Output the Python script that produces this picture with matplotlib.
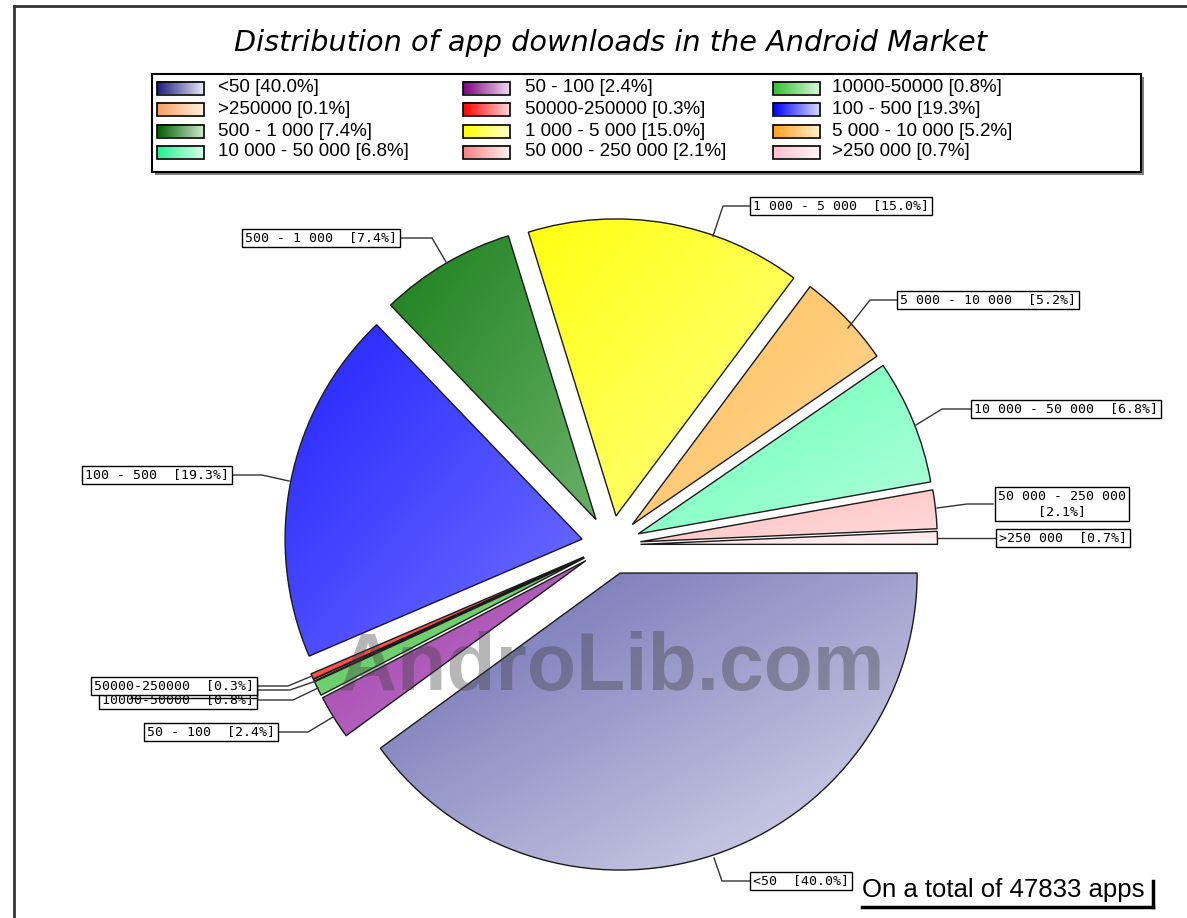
import numpy as np
import matplotlib
matplotlib.use("Agg")
import matplotlib.pyplot as plt
from matplotlib.colors import LinearSegmentedColormap
from matplotlib.patches import Rectangle

W, H = 1187, 918

# data, in the order the chart draws it (clockwise from 3 o'clock)
CATEGORIES = ["<50", "50 - 100", "10000-50000", ">250000", "50000-250000", "100 - 500",
              "500 - 1 000", "1 000 - 5 000", "5 000 - 10 000", "10 000 - 50 000",
              "50 000 - 250 000", ">250 000"]
SHARES = [40.0, 2.4, 0.8, 0.1, 0.3, 19.3, 7.4, 15.0, 5.2, 6.8, 2.1, 0.7]
TOTAL_APPS = 47833
TITLE = "Distribution of app downloads in the Android Market"

# styles
PIE_DARK = ["#6868b0", "#9c3ca8", "#48c048", "#f8a878", "#ff1818", "#2424ff",
            "#1c801c", "#ffff10", "#ffbe5a", "#68ffb4", "#ffbcbc", "#ffdce4"]
PIE_LIGHT = ["#dcdcee", "#c47ccc", "#98e098", "#ffd8c0", "#ff8888", "#7070ff",
             "#68b068", "#ffff88", "#ffd898", "#b0ffdc", "#ffdcdc", "#fff0f2"]
SWATCH_DARK = ["#1c1c80", "#800080", "#30c030", "#f8a060", "#ff0000", "#0000ff",
               "#006000", "#ffff00", "#ffa020", "#20f090", "#ff8080", "#ffc0d0"]
SWATCH_LIGHT = ["#e8e8f4", "#f0d8f0", "#d8f8d8", "#fff0e0", "#ffd8d8", "#d8d8ff",
                "#d0e8d0", "#ffffd0", "#fff0d0", "#d8ffe8", "#fff0f0", "#fff4f8"]

# pie placement in pixels (explode is in the same units)
CX, CY, R = 611, 545, 297
EXPLODE = 29.5

# label layout: (side, x of box edge, y centre, leader polyline)
LABEL_LAYOUT = [
    ("left", 750, 881, [(714, 858), (722, 881), (750, 881)]),
    ("right", 278, 732, [(333, 717), (308, 732), (278, 732)]),
    ("right", 257, 700, [(318, 688), (293, 700), (257, 700)]),
    ("right", 257, 689, [(316, 681), (290, 690), (257, 690)]),
    ("right", 257, 686, [(312, 676), (288, 686), (257, 686)]),
    ("right", 232, 475, [(289, 481), (262, 475), (232, 475)]),
    ("right", 400, 238, [(446, 262), (432, 238), (400, 238)]),
    ("left", 750, 206, [(713, 236), (723, 206), (750, 206)]),
    ("left", 897, 300, [(848, 328), (870, 300), (897, 300)]),
    ("left", 971, 409, [(916, 425), (942, 409), (971, 409)]),
    ("center", 1062, 504, [(937, 508), (967, 504), (993, 504)]),
    ("left", 996, 538, [(938, 538), (996, 538)]),
]

LEG_COLS_SWATCH = [157, 463, 773]
LEG_COLS_TEXT = [218, 525, 832]
LEG_ROWS = [88, 109, 131, 152]

fig = plt.figure(figsize=(W / 100, H / 100), dpi=100)
ax = fig.add_axes([0, 0, 1, 1])

wedges, _ = ax.pie(SHARES, radius=R, center=(CX, CY), explode=[EXPLODE] * len(SHARES),
                   startangle=0, counterclock=True,
                   wedgeprops=dict(facecolor="none", edgecolor="#1a1a1a", linewidth=1.0, zorder=3))

gx, gy = np.meshgrid(np.linspace(0, 1, 128), np.linspace(0, 1, 128))
for w, c0, c1 in zip(wedges, PIE_DARK, PIE_LIGHT):
    th = np.radians(np.linspace(w.theta1, w.theta2, 60))
    xs = np.r_[w.center[0], w.center[0] + w.r * np.cos(th)]
    ys = np.r_[w.center[1], w.center[1] + w.r * np.sin(th)]
    cmap = LinearSegmentedColormap.from_list("g", [c0, c1])
    im = ax.imshow((gx + gy) / 2, cmap=cmap, extent=(xs.min(), xs.max(), ys.max(), ys.min()),
                   origin="upper", zorder=2, interpolation="bilinear", aspect="auto")
    im.set_clip_path(w)

# pie labels
label_font = dict(family="DejaVu Sans Mono", fontsize=9.5, zorder=6)
for i, (cat, share) in enumerate(zip(CATEGORIES, SHARES)):
    side, x, y, pts = LABEL_LAYOUT[i]
    px, py = zip(*pts)
    ax.plot(px, py, color="#333333", lw=1.0, zorder=4)
    fc = "none" if i == 3 else "white"
    box = dict(boxstyle="square,pad=0.22", fc=fc, ec="black", lw=1.0)
    if side == "center":
        txt = f"{cat}\n[{share:.1f}%]"
        ax.text(x, y, txt, ha="center", va="center", multialignment="center",
                linespacing=1.15, bbox=box, **label_font)
    elif side == "left":
        ax.text(x + 3, y, f"{cat}  [{share:.1f}%]", ha="left", va="center", bbox=box, **label_font)
    else:
        ax.text(x - 3, y, f"{cat}  [{share:.1f}%]", ha="right", va="center", bbox=box, **label_font)

# legend
ax.add_patch(Rectangle((155, 77), 989, 98, fc="#808080", ec="none", zorder=1))
ax.add_patch(Rectangle((152, 74), 989, 98, fc="white", ec="black", lw=1.5, zorder=1.5))
hgrad = np.linspace(0, 1, 64)[None, :]
for i, (cat, share) in enumerate(zip(CATEGORIES, SHARES)):
    r, c = divmod(i, 3)
    sx, sy = LEG_COLS_SWATCH[c], LEG_ROWS[r]
    cmap = LinearSegmentedColormap.from_list("s", [SWATCH_DARK[i], SWATCH_LIGHT[i]])
    ax.imshow(hgrad, cmap=cmap, extent=(sx, sx + 47, sy + 6.5, sy - 6.5), origin="upper",
              aspect="auto", zorder=2)
    ax.add_patch(Rectangle((sx, sy - 6.5), 47, 13, fc="none", ec="black", lw=1.2, zorder=3))
    ax.text(LEG_COLS_TEXT[c], sy, f"{cat} [{share:.1f}%]", ha="left", va="center",
            fontsize=13.5, family="Liberation Sans", zorder=3)

ax.text(610, 43, TITLE, ha="center", va="center", fontsize=20.7, style="italic",
        family="DejaVu Sans")

# watermark
ax.text(612, 690, "AndroLib.com", ha="center", va="baseline", fontsize=58,
        fontweight="bold", family="Liberation Sans", color="#404040", alpha=0.38, zorder=8)

# total note
ax.text(862, 897, f"On a total of {TOTAL_APPS} apps", ha="left", va="baseline",
        fontsize=18.5, family="Liberation Sans", zorder=6)
ax.plot([862, 1153], [907, 907], color="black", lw=2.5, zorder=6)
ax.plot([1153, 1153], [881, 907], color="black", lw=2.5, zorder=6)

# outer frame
ax.plot([14, 14], [6, H], color="#333333", lw=2, zorder=6, clip_on=False)
ax.plot([14, W], [6, 6], color="#333333", lw=2, zorder=6, clip_on=False)

ax.set_xlim(0, W)
ax.set_ylim(H, 0)
ax.set_aspect("auto")
ax.axis("off")
fig.savefig("out.png", dpi=100)
